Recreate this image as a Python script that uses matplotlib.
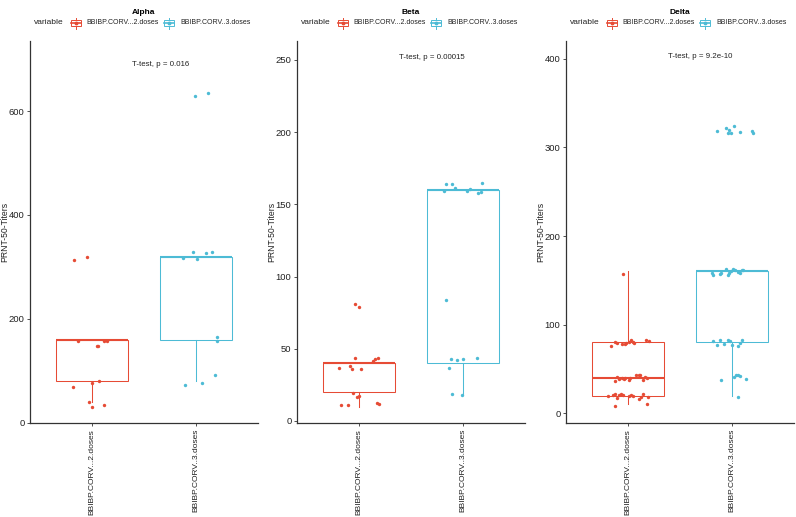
import matplotlib
matplotlib.use('Agg')
import matplotlib.pyplot as plt
from matplotlib.patches import Rectangle
from matplotlib.lines import Line2D

plt.rcParams['font.family'] = ['Liberation Sans', 'DejaVu Sans']

# colours (npg palette)
RED = '#E64B35'
BLUE = '#4DBBD5'

groups = ['BBIBP.CORV...2.doses', 'BBIBP.CORV..3.doses']
variants = ['Alpha', 'Beta', 'Delta']
pvals = ['T-test, p = 0.016', 'T-test, p = 0.00015', 'T-test, p = 9.2e-10']

# box stats: q1, median, q3, lower whisker, upper whisker
alpha_box_2 = [80, 160, 160, 40, 160]
alpha_box_3 = [160, 320, 320, 80, 320]
beta_box_2 = [20, 40, 40, 10, 40]
beta_box_3 = [40, 160, 160, 19, 160]
delta_box_2 = [20, 40, 80, 10, 160]
delta_box_3 = [80, 160, 160, 20, 160]

# jittered points: value and horizontal jitter (category units)
alpha_2_vals = [158, 148, 147, 157, 158, 68, 77, 80, 39, 31, 35, 313, 320]
alpha_2_jit = [-0.135, 0.05, 0.06, 0.113, 0.142, -0.183, 0.0, 0.068, -0.03, 0.0, 0.116, -0.174, -0.048]
alpha_3_vals = [629, 634, 318, 328, 315, 326, 329, 165, 157, 73, 77, 92]
alpha_3_jit = [-0.01, 0.113, -0.125, -0.03, 0.01, 0.103, 0.154, 0.203, 0.203, -0.10, 0.055, 0.183]

beta_2_vals = [36.6, 37.8, 36.2, 36.0, 43.8, 41.7, 42.9, 43.8, 19.4, 16.4, 17.1, 11.1, 11.3, 12.7, 11.5, 80.9, 79.0]
beta_2_jit = [-0.198, -0.092, -0.07, 0.014, -0.043, 0.137, 0.156, 0.185, -0.06, -0.024, -0.002, -0.176, -0.111, 0.169, 0.195, -0.04, -0.002]
beta_3_vals = [159, 163.7, 163.9, 161, 159, 160.7, 157.5, 158.2, 164.4, 83.4, 36.6, 42.9, 42.2, 43.1, 43.8, 18.9, 18.2]
beta_3_jit = [-0.185, -0.159, -0.10, -0.075, 0.043, 0.072, 0.15, 0.176, 0.188, -0.162, -0.133, -0.114, -0.053, -0.002, 0.14, -0.108, -0.012]

delta_2_vals = [75.9, 80.8, 78.9, 78.2, 78.2, 78.9, 80.0, 82.7, 80.8, 79.7, 82.3, 81.5,
                36.4, 41.3, 38.3, 39.4, 38.7, 40.2, 37.6, 39.4, 43.2, 43.2, 43.2, 37.6, 41.3, 39.4,
                19.5, 20.6, 21.4, 16.9, 20.6, 21.4, 20.6, 19.5, 20.6, 19.5, 16.1, 18.8, 21.4, 18.8,
                8.2, 10.1, 156.8]
delta_2_jit = [-0.17, -0.13, -0.11, -0.06, -0.03, -0.02, 0.01, 0.03, 0.05, 0.06, 0.17, 0.20,
               -0.13, -0.11, -0.09, -0.06, -0.04, -0.03, 0.01, 0.02, 0.08, 0.10, 0.11, 0.14, 0.16, 0.18,
               -0.19, -0.15, -0.13, -0.11, -0.09, -0.07, -0.05, 0.01, 0.03, 0.05, 0.10, 0.12, 0.14, 0.19,
               -0.13, 0.18, -0.05]
delta_3_vals = [157.9, 156.0, 156.7, 158.6, 162.4, 156.0, 158.6, 160.9, 162.7, 161.6, 159.7, 157.9, 161.6, 161.6,
                81.5, 77.0, 82.7, 77.8, 82.7, 81.5, 77.0, 75.9, 79.7, 82.7,
                37.6, 40.6, 43.2, 43.2, 42.4, 38.3, 18.8,
                318, 322, 316, 320, 316, 324, 317, 318, 316]
delta_3_jit = [-0.19, -0.18, -0.11, -0.10, -0.06, -0.04, -0.03, -0.01, 0.01, 0.03, 0.06, 0.08, 0.10, 0.11,
               -0.18, -0.14, -0.11, -0.08, -0.04, -0.02, 0.0, 0.06, 0.08, 0.10,
               -0.10, 0.02, 0.04, 0.06, 0.08, 0.14, 0.06,
               -0.14, -0.06, -0.04, -0.03, -0.01, 0.02, 0.08, 0.19, 0.20]

boxes = [(alpha_box_2, alpha_box_3), (beta_box_2, beta_box_3), (delta_box_2, delta_box_3)]
points = [((alpha_2_vals, alpha_2_jit), (alpha_3_vals, alpha_3_jit)),
          ((beta_2_vals, beta_2_jit), (beta_3_vals, beta_3_jit)),
          ((delta_2_vals, delta_2_jit), (delta_3_vals, delta_3_jit))]
ylims = [(-1.2, 735), (-1.6, 263), (-11.3, 420)]
yticks = [[0, 200, 400, 600], [0, 50, 100, 150, 200, 250], [0, 100, 200, 300, 400]]
pval_y = [689, 251.7, 402]

W, H = 796, 517
fig = plt.figure(figsize=(W / 100, H / 100), dpi=100)
lefts = [30, 297, 566]
aw = 228
top, bottom = 41, 423.3


def fx(px):
    return px / W


def fy(py):
    return 1 - py / H


def legend_key(x, y, col):
    # small boxplot glyph, x,y = centre in pixels
    fig.add_artist(Rectangle((fx(x - 5), fy(y + 3)), 10 / W, 6 / H, transform=fig.transFigure,
                             facecolor='white', edgecolor=col, lw=0.7))
    fig.add_artist(Line2D([fx(x), fx(x)], [fy(y - 5.5), fy(y - 3)], transform=fig.transFigure, color=col, lw=0.7))
    fig.add_artist(Line2D([fx(x), fx(x)], [fy(y + 3), fy(y + 5.5)], transform=fig.transFigure, color=col, lw=0.7))
    fig.add_artist(Line2D([fx(x - 5), fx(x + 5)], [fy(y), fy(y)], transform=fig.transFigure, color=col, lw=1.2))
    fig.add_artist(Line2D([fx(x)], [fy(y)], transform=fig.transFigure, color=col, marker='o', ms=1.8, lw=0))


for i, name in enumerate(variants):
    L = lefts[i]
    ax = fig.add_axes([fx(L), fy(bottom), aw / W, (bottom - top) / H])
    cols = [RED, BLUE]
    for j in range(2):
        q1, med, q3, lo, hi = boxes[i][j]
        st = [{'q1': q1, 'med': med, 'q3': q3, 'whislo': lo, 'whishi': hi, 'fliers': []}]
        ax.bxp(st, positions=[j + 1], widths=0.7, showcaps=False, showfliers=False, patch_artist=True,
               boxprops=dict(facecolor='white', edgecolor=cols[j], lw=0.75),
               whiskerprops=dict(color=cols[j], lw=0.75),
               medianprops=dict(color=cols[j], lw=1.5))
        vals, jit = points[i][j]
        ax.scatter([j + 1 + d for d in jit], vals, s=6, color=cols[j], lw=0, zorder=5)

    ax.set_xlim(0.4, 2.6)
    ax.set_ylim(*ylims[i])
    ax.set_yticks(yticks[i])
    ax.set_xticks([1, 2])
    ax.set_xticklabels(groups, rotation=90, ha='center', va='top', fontsize=6.0, color='#222222')
    ax.tick_params(axis='y', labelsize=6.8, labelcolor='#222222', length=2.5, width=0.6, color='#333333', pad=1.5)
    ax.tick_params(axis='x', length=2.5, width=0.6, color='#333333', pad=1.5)
    for s in ['top', 'right']:
        ax.spines[s].set_visible(False)
    for s in ['left', 'bottom']:
        ax.spines[s].set_color('#333333')
        ax.spines[s].set_linewidth(0.9)
    ax.set_ylabel('PRNT-50-Titers', fontsize=6.2, color='#222222')
    ax.yaxis.set_label_coords(-21 / aw, 0.5)
    ax.text(1.38, pval_y[i], pvals[i], fontsize=5.7, ha='left', va='center', color='#222222')

    # title and legend above each panel
    cx = L + aw / 2
    fig.text(fx(cx), fy(13), name, fontsize=6, fontweight='bold', ha='center', va='center')
    fig.text(fx(L + 4), fy(23), 'variable', fontsize=6, ha='left', va='center', color='#222222')
    legend_key(L + 46, 23, RED)
    fig.text(fx(L + 56), fy(23), groups[0], fontsize=5, ha='left', va='center', color='#222222')
    legend_key(L + 139, 23, BLUE)
    fig.text(fx(L + 150), fy(23), groups[1], fontsize=5, ha='left', va='center', color='#222222')

fig.savefig('out.png', dpi=100, facecolor='white')
